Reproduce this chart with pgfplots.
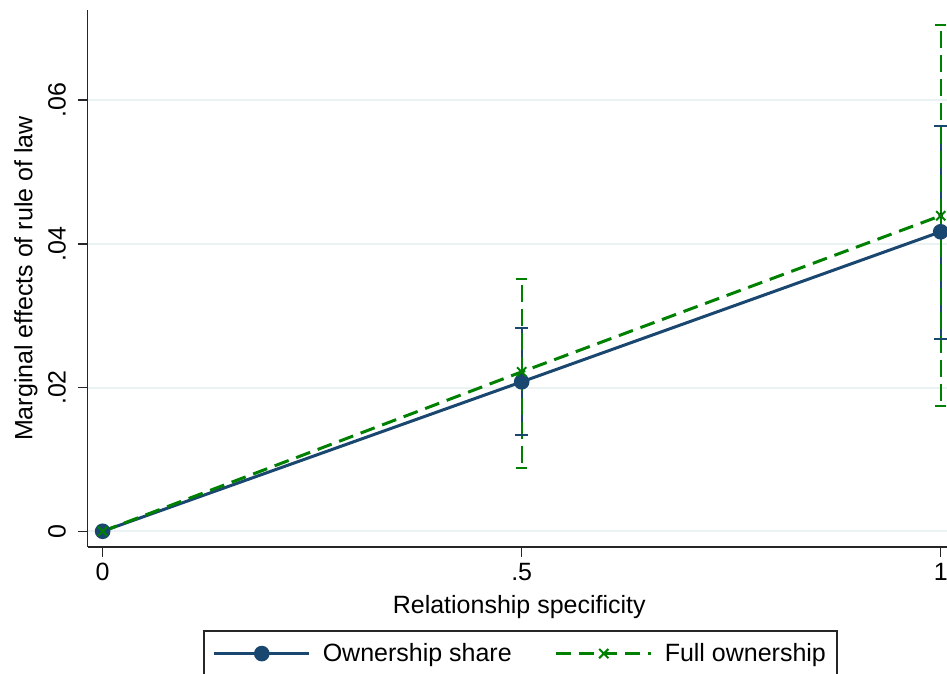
\documentclass[border=0pt]{standalone}
\usepackage{pgfplots}
\pgfplotsset{compat=1.18}
\usepackage{fontspec}
\setmainfont{Liberation Sans}
\definecolor{navy}{RGB}{26,71,111}
\definecolor{sgreen}{RGB}{0,128,0}
\definecolor{gridc}{RGB}{234,242,243}
\begin{document}
\begin{tikzpicture}
\useasboundingbox (0,0) rectangle (947pt,673pt);
\clip (0,0) rectangle (947pt,673pt);
\begin{axis}[
  at={(87.5pt,126pt)}, anchor=south west,
  scale only axis, width=863.5pt, height=537pt,
  xmin=-0.0181, xmax=1.0123, ymin=-0.00219, ymax=0.07253,
  scaled ticks=false,
  axis x line*=bottom, axis y line*=left,
  axis line style={-, line width=1.5pt, black!85},
  xtick={0,0.5,1}, xticklabels={0,.5,1},
  ytick={0,0.02,0.04,0.06}, yticklabels={0,.02,.04,.06},
  tick align=outside, major tick length=10pt,
  tick style={line width=1.5pt, black!85},
  ymajorgrids, grid style={line width=2pt, gridc},
  tick label style={font=\fontsize{25}{30}\selectfont},
  yticklabel style={xshift=-12pt, rotate=90, anchor=base},
  xticklabel style={yshift=-3pt},
  label style={font=\fontsize{25}{30}\selectfont},
  xlabel={Relationship specificity},
  ylabel={Marginal effects of rule of law},
  xlabel style={at={(axis description cs:0.5,-0.1229)}, anchor=base},
  ylabel style={at={(axis description cs:-0.0637,0.5)}, anchor=base},
  legend columns=2,
  legend style={at={(axis description cs:0.1338,-0.1546)}, anchor=north west,
    draw=black!85, line width=1.5pt, font=\fontsize{25}{30}\selectfont,
    inner xsep=9pt, inner ysep=11pt,
    /tikz/every odd column/.append style={column sep=10pt},
    /tikz/every even column/.append style={column sep=41pt}},
  legend image code/.code={\draw[mark repeat=2,mark phase=2,#1] plot coordinates {(0pt,0pt) (47.5pt,0pt) (95pt,0pt)};},
]
% confidence interval bars (rcap): vertical lines
\addplot[only marks, mark=none, forget plot,
  error bars/.cd, y dir=both, y explicit, error mark=none,
  error bar style={draw=navy, line width=2pt, solid}]
  coordinates {(0.5,0.02083) +- (0,0.00747) (1,0.04155) +- (0,0.01483)};
% caps of the navy intervals
\addplot[only marks, mark=-, mark size=6.5pt, forget plot,
  mark options={draw=navy, line width=2pt, solid}]
  coordinates {(0.5,0.01336) (0.5,0.02830) (1,0.02672) (1,0.05638)};
\addplot[only marks, mark=none, forget plot,
  error bars/.cd, y dir=both, y explicit, error mark=none,
  error bar style={draw=sgreen, line width=2pt, dash pattern=on 17pt off 7pt}]
  coordinates {(0.5,0.02193) +- (0,0.01315) (1,0.04392) +- (0,0.02652)};
% caps of the green intervals
\addplot[only marks, mark=-, mark size=5.5pt, forget plot,
  mark options={draw=sgreen, line width=2pt, solid}]
  coordinates {(0.5,0.00877) (0.5,0.03508) (1,0.01740) (1,0.07044)};
\addplot[navy, line width=3pt, mark=*, mark size=6.3pt, mark options={solid, fill=navy}]
  coordinates {(0,0) (0.5,0.02079) (1,0.04167)};
\addlegendentry{Ownership share}
\addplot[sgreen, line width=3pt, dash pattern=on 15pt off 8pt, mark=x, mark size=6.5pt, mark options={solid, line width=2pt}]
  coordinates {(0,0) (0.5,0.02218) (1,0.04390)};
\addlegendentry{Full ownership}
\end{axis}
\end{tikzpicture}
\end{document}
